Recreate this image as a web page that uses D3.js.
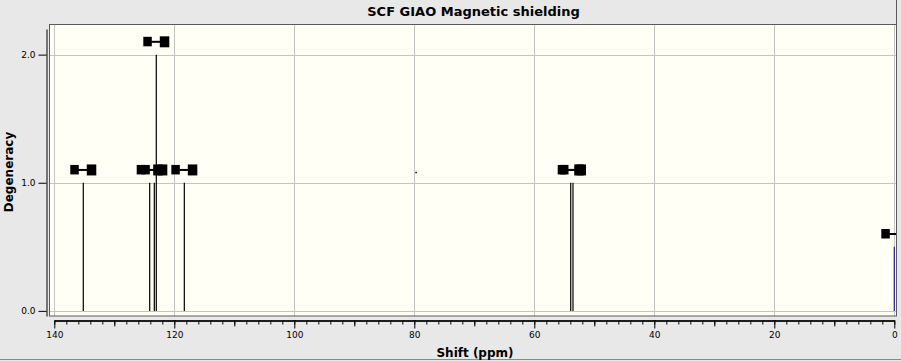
<!DOCTYPE html>
<html><head><meta charset="utf-8">
<script src="https://cdn.jsdelivr.net/npm/d3@7"></script>
<style>html,body{margin:0;padding:0;background:#e8e8e8;} svg{display:block}</style>
</head><body><svg id="c" width="901" height="361"></svg>
<script>
// ---- data ----
const chartTitle = "SCF GIAO Magnetic shielding";
const xLabel = "Shift (ppm)";
const yLabel = "Degeneracy";
const peakShifts = [135.17, 124.1, 123.33, 123.0, 118.33, 53.93, 53.55, 0.0];
const peakDegeneracy = [1, 1, 1, 2, 1, 1, 1, 0.5];
const peakKinds = ["C", "C", "C", "C", "C", "C", "C", "ref"];
const xTickValues = [140, 120, 100, 80, 60, 40, 20, 0];
const yTickValues = [0, 1, 2];
const strayShifts = [79.7];
const strayValues = [1.08];

// ---- layout ----
const svg = d3.select("#c");
const W = 901, H = 361;
const frame = {left: 49, top: 24, right: 897, bottom: 316};
const x = d3.scaleLinear().domain([140, 0]).range([54.3, 894.3]);
const y = d3.scaleLinear().domain([-0.04, 2.2]).range([316, 29]);
const font = "'DejaVu Sans', Verdana, sans-serif";
const colorOf = k => k === "ref" ? "#1c1c8e" : "#000";

svg.append("rect").attr("width", W).attr("height", H).attr("fill", "#e8e8e8");
svg.append("line").attr("x1", 0).attr("x2", W).attr("y1", 359.5).attr("y2", 359.5)
  .attr("stroke", "#8a8a8a");

svg.append("clipPath").attr("id", "plotclip").append("rect")
  .attr("x", frame.left).attr("y", frame.top)
  .attr("width", frame.right - frame.left).attr("height", frame.bottom - frame.top);

// plot background
svg.append("rect").attr("x", frame.left).attr("y", frame.top)
  .attr("width", frame.right - frame.left).attr("height", frame.bottom - frame.top)
  .attr("fill", "#fffff5");

const plot = svg.append("g").attr("clip-path", "url(#plotclip)");

// grid
plot.selectAll("line.vg").data(xTickValues).join("line").attr("class", "vg")
  .attr("x1", d => Math.round(x(d)) + 0.5).attr("x2", d => Math.round(x(d)) + 0.5)
  .attr("y1", frame.top).attr("y2", frame.bottom)
  .attr("stroke", "#c4c4c4").attr("stroke-width", 1);
plot.selectAll("line.hg").data(yTickValues).join("line").attr("class", "hg")
  .attr("x1", frame.left).attr("x2", frame.right)
  .attr("y1", d => Math.round(y(d)) + 0.5).attr("y2", d => Math.round(y(d)) + 0.5)
  .attr("stroke", "#c4c4c4").attr("stroke-width", 1);

// sticks
const peaks = peakShifts.map((s, i) => ({s, d: peakDegeneracy[i], k: peakKinds[i]}));
plot.selectAll("line.stick").data(peaks).join("line").attr("class", "stick")
  .attr("x1", d => x(d.s)).attr("x2", d => x(d.s))
  .attr("y1", y(0)).attr("y2", d => y(d.d))
  .attr("stroke", d => colorOf(d.k)).attr("stroke-width", 1.2);

// label markers
const mk = plot.selectAll("g.mk").data(peaks).join("g").attr("class", "mk")
  .attr("transform", d => `translate(${x(d.s)},${y(d.d + 0.1)})`);
mk.append("rect").attr("x", -13).attr("y", -5).attr("width", 8.5).attr("height", 9.5).attr("fill", "#000");
mk.append("line").attr("x1", -5).attr("x2", 4).attr("y1", 0).attr("y2", 0).attr("stroke", "#000").attr("stroke-width", 2);
mk.append("rect").attr("x", 3.5).attr("y", -5.5).attr("width", 9.5).attr("height", 11).attr("fill", "#000");

// stray point
plot.selectAll("rect.stray").data(strayShifts).join("rect").attr("class", "stray")
  .attr("x", d => x(d) - 0.75).attr("y", (d, i) => y(strayValues[i]) - 0.75)
  .attr("width", 1.5).attr("height", 1.5).attr("fill", "#000");

// frame border
svg.append("rect").attr("x", frame.left + 0.5).attr("y", frame.top + 0.5)
  .attr("width", frame.right - frame.left - 1).attr("height", frame.bottom - frame.top - 0.5)
  .attr("fill", "none").attr("stroke", "#5a5a5a").attr("stroke-width", 1);
svg.append("line").attr("x1", frame.right - 0.5).attr("x2", frame.right - 0.5)
  .attr("y1", 0).attr("y2", frame.bottom).attr("stroke", "#5a5a5a");

// x axis
const xAxisY = 320;
const minor = d3.range(0, 141, 2);
const medium = d3.range(10, 140, 20);
function styleAxis(g) {
  g.selectAll("path.domain").attr("stroke", "#000");
  g.selectAll(".tick line").attr("stroke", "#000");
  g.selectAll("text").attr("font-family", font).attr("font-size", 9).attr("fill", "#000");
}
svg.append("g").attr("transform", `translate(0,${xAxisY + 0.5})`)
  .call(d3.axisBottom(x).tickValues(minor).tickSize(4).tickSizeOuter(0).tickFormat(""))
  .call(styleAxis);
svg.append("g").attr("transform", `translate(0,${xAxisY + 0.5})`)
  .call(d3.axisBottom(x).tickValues(medium).tickSize(6).tickSizeOuter(0).tickFormat(""))
  .call(styleAxis);
svg.append("g").attr("transform", `translate(0,${xAxisY + 0.5})`)
  .call(d3.axisBottom(x).tickValues(xTickValues).tickSize(8).tickSizeOuter(0).tickPadding(3).tickFormat(d3.format("d")))
  .call(styleAxis);

// y axis
svg.append("g").attr("transform", `translate(46.5,0)`)
  .call(d3.axisLeft(y).tickValues(yTickValues).tickSize(8).tickSizeOuter(0).tickPadding(3).tickFormat(d3.format(".1f")))
  .call(styleAxis);

// titles
svg.append("text").attr("x", 473.5).attr("y", 16).attr("text-anchor", "middle")
  .attr("font-family", font).attr("font-weight", "bold").attr("font-size", 13).attr("fill", "#000")
  .text(chartTitle);
svg.append("text").attr("x", 475).attr("y", 356.5).attr("text-anchor", "middle")
  .attr("font-family", font).attr("font-weight", "bold").attr("font-size", 12).attr("fill", "#000")
  .text(xLabel);
svg.append("text").attr("transform", "translate(12.5,172) rotate(-90)").attr("text-anchor", "middle")
  .attr("font-family", font).attr("font-weight", "bold").attr("font-size", 12).attr("fill", "#000")
  .text(yLabel);
</script></body></html>
